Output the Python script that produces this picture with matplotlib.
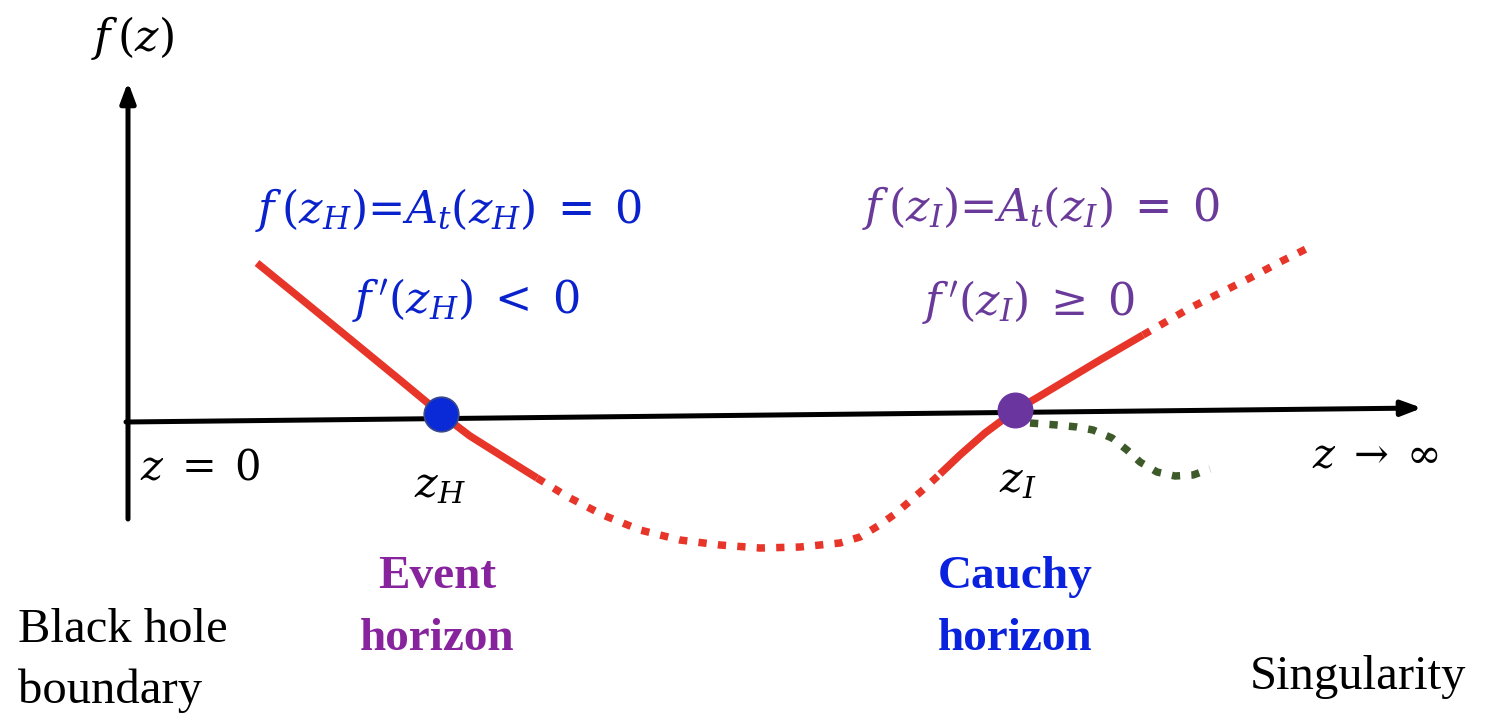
import matplotlib
matplotlib.use('Agg')
import matplotlib.pyplot as plt

plt.rcParams['mathtext.fontset'] = 'dejavuserif'

# curve pieces in pixel coordinates (x right, y down)
solid_a_x = [257, 300, 350, 400, 441, 470, 505, 537]
solid_a_y = [263, 298, 339, 380, 414, 436, 458, 478]
dotted_a_x = [537, 568, 603, 640, 680, 720, 760, 800, 840, 860, 878, 895, 910, 925, 940]
dotted_a_y = [478, 497, 515, 530, 540, 545, 548, 547, 543, 537, 526, 514, 501, 488, 474]
solid_b_x = [940, 960, 985, 1016, 1040, 1070, 1100, 1143]
solid_b_y = [474, 455, 433, 410, 396, 378, 360, 335]
dotted_b_x = [1143, 1190, 1220, 1250, 1280, 1310]
dotted_b_y = [335, 308, 293, 278, 262, 247]
green_x = [1030, 1057, 1077, 1093, 1112, 1127, 1140, 1157, 1175, 1193, 1210]
green_y = [423, 425, 427, 430, 438, 450, 462, 472, 476, 475, 469]

horizon_x = [441, 1015]
horizon_y = [414, 410]

red = '#e8352a'
blue = '#0a22cc'
purple = '#6a3a9a'
green = '#3f5a2a'

fig = plt.figure(figsize=(14.92, 7.2), dpi=100)
ax = fig.add_axes([0, 0, 1, 1])
ax.set_xlim(0, 1492)
ax.set_ylim(720, 0)
ax.axis('off')

# axes arrows
ax.annotate('', xy=(1422, 408), xytext=(126, 422),
            arrowprops=dict(arrowstyle='-|>,head_length=1.2,head_width=0.45', lw=3.6, color='black', shrinkA=0, shrinkB=0))
ax.annotate('', xy=(128, 82), xytext=(128, 519),
            arrowprops=dict(arrowstyle='-|>,head_length=1.2,head_width=0.45', lw=3.6, color='black', shrinkA=0, shrinkB=0))

dot_style = dict(lw=5.4, linestyle=(0, (1.1, 1.5)), dash_capstyle='butt', solid_joinstyle='round')
ax.plot(solid_a_x, solid_a_y, color=red, lw=5.4, solid_capstyle='butt', solid_joinstyle='round')
ax.plot(dotted_a_x, dotted_a_y, color=red, **dot_style)
ax.plot(solid_b_x, solid_b_y, color=red, lw=5.4, solid_capstyle='butt', solid_joinstyle='round')
ax.plot(dotted_b_x, dotted_b_y, color=red, **dot_style)
ax.plot(green_x, green_y, color=green, **dot_style)

ax.scatter(horizon_x[:1], horizon_y[:1], s=620, color='#0a2ad8', edgecolors='#3a4a8a', linewidths=1.2, zorder=5)
ax.scatter(horizon_x[1:], horizon_y[1:], s=620, color='#6b35a0', edgecolors='#6b35a0', zorder=5)

# labels
ax.text(132, 38, r'$f\,(z)$', fontsize=32, ha='center', va='center')
ax.text(200, 467, r'$z\;=\;0$', fontsize=30, ha='center', va='center')
ax.text(440, 485, r'$z_H$', fontsize=31, ha='center', va='center')
ax.text(1018, 480, r'$z_I$', fontsize=31, ha='center', va='center')
ax.text(1376, 455, r'$z\;\rightarrow\;\infty$', fontsize=30, ha='center', va='center')

ax.text(255, 210, r'$f\,(z_H)$=$A_t(z_H)\;=\;0$', fontsize=32, ha='left', va='center', color=blue)
ax.text(352, 300, r"$f\,'(z_H)\;<\;0$", fontsize=32, ha='left', va='center', color=blue)
ax.text(862, 208, r'$f\,(z_I)$=$A_t(z_I)\;=\;0$', fontsize=32, ha='left', va='center', color=purple)
ax.text(922, 302, r"$f\,'(z_I)\;\geq\;0$", fontsize=32, ha='left', va='center', color=purple)

bold_serif = dict(fontsize=34, fontweight='bold', family='Liberation Serif', ha='center', va='baseline')
ax.text(437, 588, 'Event', color='#87239c', **bold_serif)
ax.text(437, 650, 'horizon', color='#87239c', **bold_serif)
ax.text(1015, 588, 'Cauchy', color='#0a22dd', **bold_serif)
ax.text(1015, 650, 'horizon', color='#0a22dd', **bold_serif)

plain_serif = dict(fontsize=35, family='Liberation Serif', ha='left', va='baseline')
ax.text(18, 642, 'Black hole', **plain_serif)
ax.text(18, 703, 'boundary', **plain_serif)
ax.text(1250, 689, 'Singularity', **plain_serif)

fig.savefig('out.png', dpi=100)
